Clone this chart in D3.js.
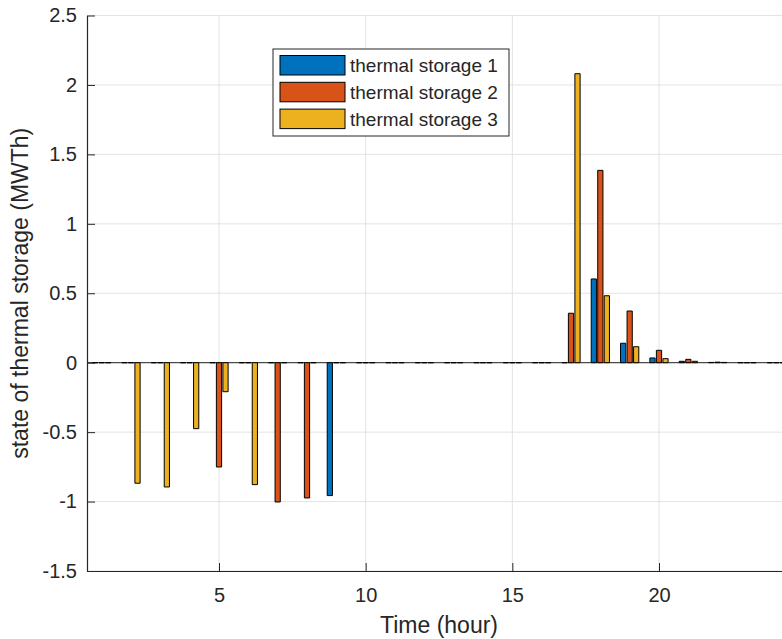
<!DOCTYPE html>
<html>
<head>
<meta charset="utf-8">
<script src="https://cdn.jsdelivr.net/npm/d3@7"></script>
<style>
body { margin: 0; background: #fff; }
text { font-family: "Liberation Sans", Arial, Helvetica, sans-serif; fill: #262626; }
</style>
</head>
<body>
<script>
var hours = [1, 2, 3, 4, 5, 6, 7, 8, 9, 10, 11, 12, 13, 14, 15, 16, 17, 18, 19, 20, 21, 22, 23, 24];
var storage1 = [0, 0, 0, 0, 0, 0, 0, 0, -0.957, 0, 0, 0, 0, 0, 0, 0, 0, 0.603, 0.14, 0.034, 0.01, 0.002, 0, 0];
var storage2 = [0, 0, 0, 0, -0.751, 0, -1.003, -0.974, 0, 0, 0, 0, 0, 0, 0, 0, 0.356, 1.385, 0.372, 0.089, 0.024, 0.004, 0, 0];
var storage3 = [0, -0.868, -0.895, -0.475, -0.209, -0.878, 0, 0, 0, 0, 0, 0, 0, 0, 0, 0, 2.081, 0.482, 0.115, 0.029, 0.01, 0.002, 0, 0];
var seriesNames = ["thermal storage 1", "thermal storage 2", "thermal storage 3"];
var xTicks = [5, 10, 15, 20];
var yTicks = [-1.5, -1, -0.5, 0, 0.5, 1, 1.5, 2, 2.5];

var colors = ["#0072BD", "#D95319", "#EDB120"];
var width = 782, height = 639;
var plotLeft = 87, plotRight = 791, plotTop = 15.5, plotBottom = 571;

var x = d3.scaleLinear().domain([0.5, 24.5]).range([plotLeft, plotRight]);
var y = d3.scaleLinear().domain([-1.5, 2.5]).range([plotBottom, plotTop]);

var svg = d3.select("body").append("svg")
	.attr("width", width)
	.attr("height", height);

// grid
svg.append("g").selectAll("line")
	.data(xTicks).enter().append("line")
	.attr("x1", function (d) { return x(d); })
	.attr("x2", function (d) { return x(d); })
	.attr("y1", plotTop).attr("y2", plotBottom)
	.attr("stroke", "#e3e3e3");

svg.append("g").selectAll("line")
	.data(yTicks).enter().append("line")
	.attr("x1", plotLeft).attr("x2", plotRight)
	.attr("y1", function (d) { return y(d); })
	.attr("y2", function (d) { return y(d); })
	.attr("stroke", "#e3e3e3");

// baseline
svg.append("line")
	.attr("x1", plotLeft).attr("x2", plotRight)
	.attr("y1", y(0)).attr("y2", y(0))
	.attr("stroke", "#262626")
	.attr("stroke-width", 1);

// bars
var groupOffset = 0.222, barWidth = 0.178;
var series = [storage1, storage2, storage3];

series.forEach(function (values, s) {
	svg.append("g").selectAll("path")
		.data(values).enter().append("path")
		.attr("d", function (d, i) {
			var cx = hours[i] + (s - 1) * groupOffset;
			var x0 = x(cx - barWidth / 2), x1 = x(cx + barWidth / 2);
			var y0 = y(0), y1 = y(d);
			return "M" + x0 + "," + y0 + "H" + x1 + "V" + y1 + "H" + x0 + "Z";
		})
		.attr("fill", colors[s])
		.attr("stroke", "#000")
		.attr("stroke-width", 1);
});

// axes
var yAxis = svg.append("g")
	.attr("transform", "translate(" + plotLeft + ",0)")
	.call(d3.axisLeft(y).tickValues(yTicks).tickFormat(d3.format("")).tickSizeInner(-8).tickSizeOuter(0).tickPadding(10));

var xAxis = svg.append("g")
	.attr("transform", "translate(0," + plotBottom + ")")
	.call(d3.axisBottom(x).tickValues(xTicks).tickSizeInner(-8).tickSizeOuter(0).tickPadding(17));

[yAxis, xAxis].forEach(function (a) {
	a.attr("font-family", null).attr("font-size", null);
	a.selectAll("text").style("font-size", "20px");
	a.selectAll("line").attr("stroke", "#262626");
	a.select(".domain").attr("stroke", "#262626").attr("stroke-width", 1.2);
});
// plain hyphen for negatives, as in the reference
yAxis.selectAll("text").text(function (d) { return String(d); });

// axis labels
svg.append("text")
	.text("Time (hour)")
	.attr("x", (plotLeft + plotRight) / 2)
	.attr("y", 633)
	.attr("text-anchor", "middle")
	.style("font-size", "23px");

svg.append("text")
	.text("state of thermal storage (MWTh)")
	.attr("transform", "translate(28," + ((plotTop + plotBottom) / 2) + ") rotate(-90)")
	.attr("text-anchor", "middle")
	.style("font-size", "23px");

// legend
var legend = svg.append("g").attr("transform", "translate(273,49)");

legend.append("rect")
	.attr("width", 236).attr("height", 87)
	.attr("fill", "#fff")
	.attr("stroke", "#262626");

var item = legend.selectAll("g")
	.data(seriesNames).enter().append("g")
	.attr("transform", function (d, i) { return "translate(7," + (6.5 + i * 26.8) + ")"; });

item.append("rect")
	.attr("width", 65).attr("height", 19.5)
	.attr("fill", function (d, i) { return colors[i]; })
	.attr("stroke", "#000");

item.append("text")
	.text(function (d) { return d; })
	.attr("x", 70)
	.attr("y", 10)
	.attr("dy", "0.35em")
	.style("font-size", "19px");
</script>
</body>
</html>
